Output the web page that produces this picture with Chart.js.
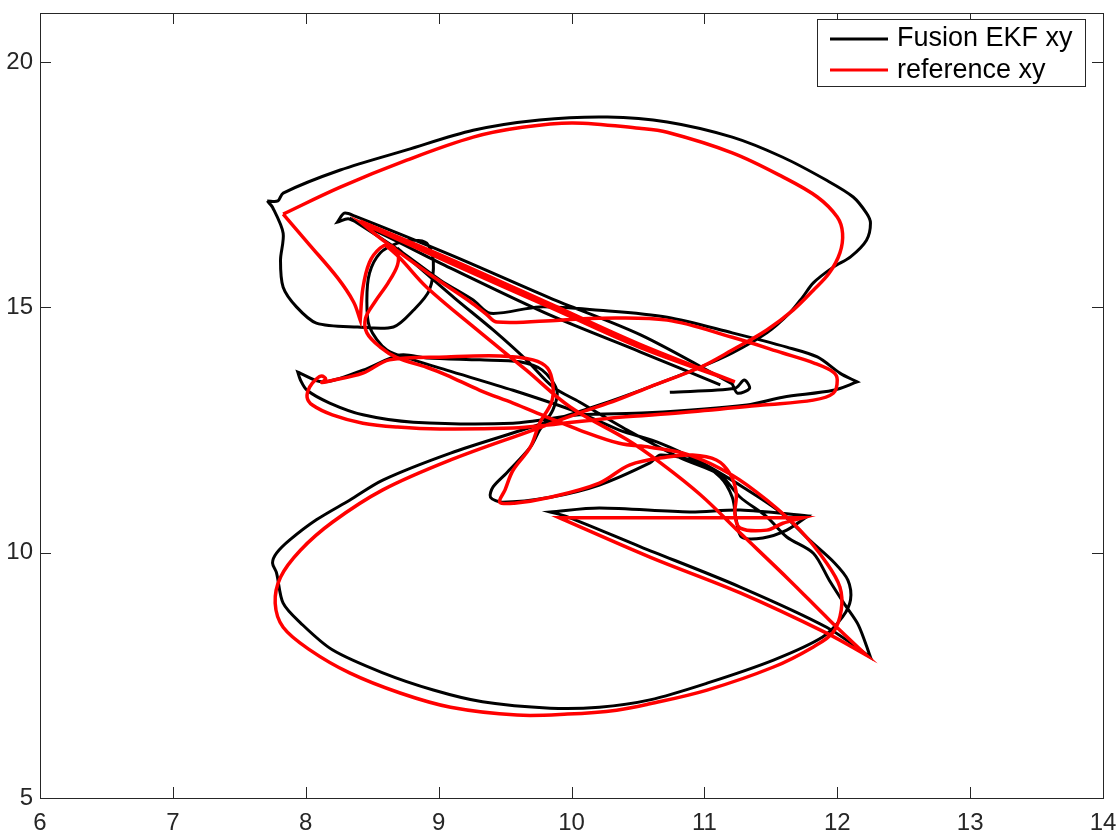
<!DOCTYPE html>
<html>
<head>
<meta charset="utf-8">
<title>Fusion EKF xy vs reference xy</title>
<script src="https://cdn.jsdelivr.net/npm/chart.js@4.4.0/dist/chart.umd.min.js"></script>
<style>
  html, body { margin: 0; padding: 0; background: #fff; }
  #wrap { width: 1120px; height: 840px; }
</style>
</head>
<body>
<div id="wrap"><canvas id="xyChart" width="1120" height="840"></canvas></div>
<script>
// tick labels
const xTicks = [6, 7, 8, 9, 10, 11, 12, 13, 14];
const yTicks = [5, 10, 15, 20];

// reference xy (red) - null marks a break in the stroke
const refX = [
  7.83, 8.26, 8.76, 9.26, 9.63, 10.01, 10.51, 10.72, 11.21, 11.59, 11.85, 12.00, 12.04, 12.02, 11.94, 11.82,
  11.67, 11.47, 11.21, 10.97, 10.59, 10.34, 10.06, 9.71, 9.09, 8.58, 8.20, 7.96, 7.81, 7.77, 7.83, 8.03,
  8.33, 8.71, 9.09, 9.59, 9.97, 10.34, 10.59, 11.02, 11.52, 11.82, 11.97, 12.03, 12.02, 11.92, 11.72, 11.47,
  11.21, 10.89, 10.59, 10.36, 10.06, 9.82, 9.56, 9.31, 9.06, 8.91, 8.69, 8.56, 8.46, 8.45, 8.52, 8.62,
  8.69, 8.69, 8.63, 8.56, 8.48, 8.43, 8.41, 8.41, 8.36, 8.24, 8.03, 7.83,
  null,
  8.41, 9.09, 9.84, 10.51, 11.23, 11.23, 10.51, 9.84, 9.09, 8.42, 8.42, 8.58, 8.93, 9.24, 9.36, 9.44,
  9.91, 10.21, 10.72, 11.21, 11.59, 11.83, 11.97, 12.00, 11.97, 11.82, 11.44, 10.82, 10.36, 9.82, 9.56, 9.01,
  8.69, 8.43, 8.20, 8.05, 8.01, 8.03, 8.08, 8.12, 8.15, 8.12, 8.18, 8.43, 8.63, 9.06, 9.46, 9.71,
  9.82, 9.86, 9.85, 9.76, 9.69, 9.56, 9.50, 9.46, 9.57, 9.84, 10.21, 10.44, 10.72, 10.91, 11.09, 11.19,
  11.24, 11.23, 11.27, 11.47, 11.59, 11.74, 11.74, 10.97, 9.91, 9.91, 10.59, 11.27, 11.92, 12.22, 12.22, 11.94,
  11.64, 11.27, 10.97, 10.67, 10.42, 9.99, 9.66, 9.29, 8.91, 8.71, 8.60
];
const refY = [
  16.90, 17.45, 18.00, 18.47, 18.67, 18.76, 18.65, 18.57, 18.15, 17.66, 17.25, 16.84, 16.51, 16.11, 15.70, 15.35,
  14.95, 14.54, 14.13, 13.78, 13.38, 13.11, 12.85, 12.50, 11.89, 11.28, 10.62, 10.05, 9.50, 8.97, 8.48, 8.02,
  7.55, 7.14, 6.85, 6.69, 6.71, 6.79, 6.92, 7.20, 7.67, 8.08, 8.38, 8.83, 9.30, 9.79, 10.46, 11.07,
  11.58, 11.99, 12.15, 12.23, 12.50, 12.76, 13.05, 13.31, 13.62, 13.78, 13.97, 14.19, 14.48, 14.78, 15.11, 15.50,
  15.86, 16.11, 16.27, 16.21, 15.92, 15.39, 14.74, 14.74, 15.11, 15.60, 16.27, 16.90,
  null,
  16.76, 15.98, 15.07, 14.25, 13.48, 13.48, 14.19, 15.00, 15.90, 16.72, 16.72, 16.37, 15.68, 15.11, 14.86, 14.70,
  14.74, 14.78, 14.74, 14.39, 14.07, 13.86, 13.68, 13.52, 13.25, 13.11, 13.01, 12.85, 12.76, 12.60, 12.54, 12.52,
  12.56, 12.64, 12.81, 13.01, 13.17, 13.38, 13.54, 13.60, 13.54, 13.47, 13.50, 13.66, 13.93, 13.99, 14.01, 13.93,
  13.76, 13.42, 13.07, 12.64, 12.15, 11.68, 11.28, 11.03, 11.01, 11.13, 11.42, 11.79, 11.95, 11.99, 11.89, 11.62,
  11.22, 10.77, 10.50, 10.46, 10.60, 10.71, 10.71, 10.71, 10.71, 10.71, 9.91, 9.18, 8.36, 7.91, 7.91, 8.63,
  9.44, 10.40, 11.18, 11.83, 12.30, 12.97, 13.72, 14.54, 15.41, 16.00, 16.27
];

// Fusion EKF xy (black)
const ekfX = [
  7.71, 7.79, 7.83, 8.26, 8.76, 9.26, 9.76, 10.27, 10.72, 11.21, 11.59, 11.92, 12.12, 12.22, 12.25, 12.22,
  12.10, 11.97, 11.82, 11.74, 11.64, 11.47, 11.21, 10.97, 10.59, 10.21, 9.63, 9.09, 8.58, 8.33, 8.08, 7.88,
  7.78, 7.75, 7.78, 7.83, 7.96, 8.20, 8.58, 8.96, 9.33, 9.84, 10.21, 10.59, 11.02, 11.52, 11.89, 12.04,
  12.10, 12.08, 11.98, 11.79, 11.57, 11.30, 10.97, 10.67, 10.36, 10.06, 9.56, 9.06, 8.81, 8.61, 8.48, 8.46,
  8.48, 8.56, 8.69, 8.81, 8.91, 8.96, 8.93, 8.81, 8.66, 8.39, 8.08, 7.93, 7.83, 7.81, 7.83, 7.75, 7.71,
  null,
  10.74, 11.23, 11.30, 11.34, 11.25, 11.21, 11.21, 10.52, 9.84, 9.09, 8.37, 8.29, 8.24, 8.24, 8.33, 9.09,
  9.84, 10.52, 11.12,
  null,
  8.33, 8.71, 9.01, 9.26, 9.39, 9.76, 10.21, 10.72, 11.21, 11.62, 11.85, 12.02, 12.15, 12.15, 11.97, 11.59,
  11.32, 10.57, 10.06, 9.56, 8.81, 8.43, 8.18, 8.01, 7.96, 7.94, 7.94, 8.13, 8.43, 8.71, 8.91, 9.31,
  9.61, 9.78, 9.89, 9.86, 9.76, 9.69, 9.51, 9.41, 9.39, 9.48, 9.84, 10.21, 10.59, 10.67, 10.94, 11.12,
  11.21, 11.24, 11.28, 11.44, 11.62, 11.78, 11.78, 11.27, 10.89, 10.21, 9.84, 9.84, 9.97, 10.52, 11.27, 11.92,
  12.25, 12.25, 12.16, 12.06, 11.94, 11.82, 11.62, 11.47, 11.27, 11.12, 10.82, 10.42, 10.06, 9.86, 9.66, 9.41,
  9.12, 8.86, 8.69
];
const ekfY = [
  17.17, 17.17, 17.33, 17.80, 18.21, 18.61, 18.82, 18.88, 18.78, 18.47, 18.06, 17.59, 17.25, 16.92, 16.72, 16.37,
  16.03, 15.82, 15.50, 15.21, 14.88, 14.48, 14.07, 13.78, 13.38, 13.01, 12.50, 12.03, 11.48, 11.07, 10.67, 10.26,
  9.99, 9.79, 9.59, 8.97, 8.57, 8.02, 7.55, 7.20, 6.96, 6.83, 6.85, 7.00, 7.34, 7.81, 8.28, 8.69,
  9.04, 9.44, 9.79, 10.26, 10.83, 11.32, 11.85, 12.23, 12.50, 12.85, 13.31, 13.72, 13.93, 14.13, 14.60, 15.15,
  15.70, 16.11, 16.31, 16.37, 16.31, 15.96, 15.35, 14.94, 14.60, 14.60, 14.68, 15.01, 15.41, 15.96, 16.51, 17.04, 17.17,
  null,
  13.27, 13.35, 13.52, 13.35, 13.25, 13.44, 13.44, 14.44, 15.19, 16.07, 16.86, 16.92, 16.74, 16.74, 16.80, 15.80,
  14.84, 14.09, 13.42,
  null,
  16.82, 16.15, 15.56, 15.15, 14.88, 15.01, 14.94, 14.80, 14.48, 14.19, 13.99, 13.66, 13.48, 13.48, 13.31, 13.17,
  13.01, 12.85, 12.81, 12.64, 12.66, 12.81, 13.05, 13.31, 13.52, 13.68, 13.68, 13.48, 13.72, 14.03, 13.97, 13.93,
  13.89, 13.72, 13.31, 12.91, 12.50, 12.15, 11.62, 11.34, 11.13, 11.03, 11.13, 11.38, 11.83, 11.99, 11.85, 11.54,
  11.13, 10.67, 10.32, 10.30, 10.46, 10.75, 10.75, 10.87, 10.83, 10.91, 10.83, 10.83, 10.73, 10.12, 9.30, 8.48,
  7.87, 7.87, 8.52, 8.93, 9.44, 9.99, 10.32, 10.73, 11.13, 11.58, 11.93, 12.50, 13.07, 13.38, 13.93, 14.54,
  15.19, 15.80, 16.21
];

const toPoints = (xs, ys) => {
  let lastX = xs[0];
  return xs.map((x, i) => {
    if (x === null) return { x: lastX, y: null };
    lastX = x;
    return { x: x, y: ys[i] };
  });
};

const FONT = "'Liberation Sans', Arial, Helvetica, sans-serif";
const AXIS_COLOR = "#262626";

// box, inward ticks on all four sides, legend inside the axes
const framePlugin = {
  id: "frame",
  afterDatasetsDraw(chart) {
    const { ctx, chartArea: a, scales } = chart;
    const tl = 11;
    ctx.save();
    ctx.strokeStyle = AXIS_COLOR;
    ctx.lineWidth = 1;
    ctx.beginPath();
    xTicks.forEach((v) => {
      const px = Math.round(scales.x.getPixelForValue(v)) + 0.5;
      ctx.moveTo(px, a.bottom); ctx.lineTo(px, a.bottom - tl);
      ctx.moveTo(px, a.top); ctx.lineTo(px, a.top + tl);
    });
    yTicks.forEach((v) => {
      const py = Math.round(scales.y.getPixelForValue(v)) + 0.5;
      ctx.moveTo(a.left, py); ctx.lineTo(a.left + tl, py);
      ctx.moveTo(a.right, py); ctx.lineTo(a.right - tl, py);
    });
    ctx.stroke();
    ctx.strokeRect(Math.round(a.left) + 0.5, Math.round(a.top) + 0.5,
      Math.round(a.right - a.left), Math.round(a.bottom - a.top));

    // legend
    const bx = 817, by = 19, bw = 268, bh = 67;
    ctx.fillStyle = "#fff";
    ctx.fillRect(bx, by, bw, bh);
    ctx.strokeRect(bx + 0.5, by + 0.5, bw, bh);
    const rows = [
      { label: "Fusion EKF xy", color: "#000000", y: 39, base: 46 },
      { label: "reference xy", color: "#ff0000", y: 70, base: 78 },
    ];
    rows.forEach((r) => {
      ctx.strokeStyle = r.color;
      ctx.lineWidth = 3;
      ctx.beginPath();
      ctx.moveTo(830, r.y);
      ctx.lineTo(888, r.y);
      ctx.stroke();
      ctx.fillStyle = "#000";
      ctx.font = "27px " + FONT;
      ctx.textBaseline = "alphabetic";
      ctx.textAlign = "left";
      ctx.fillText(r.label, 897, r.base);
    });
    ctx.restore();
  },
};

const ctx = document.getElementById("xyChart").getContext("2d");
new Chart(ctx, {
  type: "line",
  data: {
    datasets: [
      {
        label: "reference xy",
        data: toPoints(refX, refY),
        borderColor: "#ff0000",
        borderWidth: 3.5,
        pointRadius: 0,
        tension: 0.35,
        fill: false,
        spanGaps: false,
      },
      {
        label: "Fusion EKF xy",
        data: toPoints(ekfX, ekfY),
        borderColor: "#000000",
        borderWidth: 3,
        pointRadius: 0,
        tension: 0.3,
        fill: false,
        spanGaps: false,
      },
    ],
  },
  options: {
    responsive: false,
    animation: false,
    devicePixelRatio: 1,
    layout: { padding: { top: 13, right: 17, left: 0, bottom: 0 } },
    plugins: {
      legend: { display: false },
      tooltip: { enabled: false },
    },
    scales: {
      x: {
        type: "linear",
        min: 6,
        max: 14,
        afterBuildTicks: (scale) => { scale.ticks = xTicks.map((v) => ({ value: v })); },
        afterFit: (scale) => {
          scale.height = 42;
          scale.paddingLeft = 0;
          scale.paddingRight = 0;
        },
        grid: { display: false, drawTicks: false, tickLength: 0 },
        border: { display: false },
        ticks: { color: AXIS_COLOR, font: { family: FONT, size: 24 }, padding: 11, maxRotation: 0 },
      },
      y: {
        type: "linear",
        min: 5,
        max: 21,
        afterBuildTicks: (scale) => { scale.ticks = yTicks.map((v) => ({ value: v })); },
        afterFit: (scale) => {
          scale.width = 40;
          scale.paddingTop = 0;
          scale.paddingBottom = 0;
        },
        grid: { display: false, drawTicks: false, tickLength: 0 },
        border: { display: false },
        ticks: { color: AXIS_COLOR, font: { family: FONT, size: 24 }, padding: 7 },
      },
    },
  },
  plugins: [framePlugin],
});
</script>
</body>
</html>
